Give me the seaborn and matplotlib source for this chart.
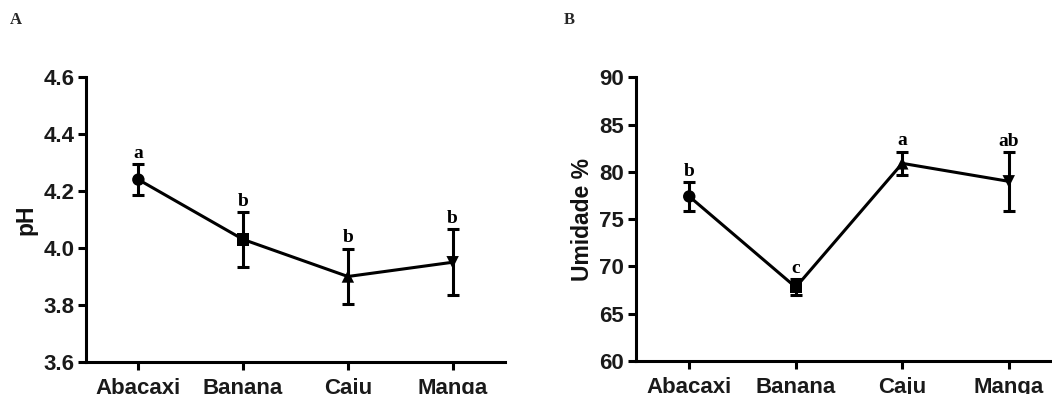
import numpy as np
import pandas as pd
import matplotlib
matplotlib.use("Agg")
import matplotlib.pyplot as plt
import seaborn as sns

categories = ["Abacaxi", "Banana", "Caju", "Manga"]
ph_mean = [4.24, 4.03, 3.90, 3.95]
ph_err = [0.055, 0.095, 0.098, 0.115]
ph_letters = ["a", "b", "b", "b"]
um_mean = [77.4, 67.8, 80.9, 79.0]
um_err = [1.5, 0.85, 1.25, 3.1]
um_letters = ["b", "c", "a", "ab"]
ph_ticks = [3.6, 3.8, 4.0, 4.2, 4.4, 4.6]
um_ticks = [60, 65, 70, 75, 80, 85, 90]
markers = {"Abacaxi": "o", "Banana": "s", "Caju": "^", "Manga": "v"}

sns.set_theme(style="ticks")
plt.rcParams["font.family"] = ["Liberation Sans", "DejaVu Sans"]

fig = plt.figure(figsize=(10.52, 3.94), dpi=100)
axA = fig.add_axes([86 / 1052, 1 - 362 / 394, (505 - 86) / 1052, (362 - 77) / 394])
axB = fig.add_axes([636 / 1052, 1 - 361 / 394, (1062 - 636) / 1052, (361 - 77.3) / 394])


def panel(ax, mean, err, letters, ticks, ylabel):
    df = pd.DataFrame({"x": np.arange(len(categories)), "y": mean, "cat": categories})
    sns.lineplot(data=df, x="x", y="y", color="black", linewidth=2.2, ax=ax, zorder=2)
    ax.errorbar(df["x"], df["y"], yerr=err, fmt="none", ecolor="black",
                elinewidth=2.2, capsize=4, capthick=2.2, zorder=3)
    sns.scatterplot(data=df, x="x", y="y", style="cat", markers=markers,
                    color="black", s=80, edgecolor="black", linewidth=0,
                    legend=False, ax=ax, zorder=4)
    for xi, (m, e, l) in enumerate(zip(mean, err, letters)):
        ax.annotate(l, (xi, m + e), xytext=(0, 4.5), textcoords="offset points",
                    ha="center", va="baseline", fontsize=14, fontweight="bold",
                    family=["Liberation Serif", "DejaVu Serif"], color="black")
    ax.set_xlim(-0.5, 3.5)
    ax.set_ylim(ticks[0], ticks[-1])
    ax.set_yticks(ticks)
    ax.set_xticks(range(len(categories)))
    ax.set_xticklabels(categories)
    if isinstance(ticks[0], float):
        ax.set_yticklabels([f"{t:.1f}" for t in ticks])
    ax.set_xlabel("")
    ax.set_ylabel(ylabel, fontsize=16.5, fontweight="bold", labelpad=4, color="#111111")
    for s in ["top", "right"]:
        ax.spines[s].set_visible(False)
    for s in ["left", "bottom"]:
        ax.spines[s].set_linewidth(2.2)
        ax.spines[s].set_color("black")
    ax.tick_params(axis="both", which="major", length=6, width=2.2, color="black",
                   labelsize=16, labelcolor="#1a1a1a", direction="out")
    ax.tick_params(axis="x", pad=5.5)
    ax.tick_params(axis="y", pad=2.5)
    for lab in ax.get_xticklabels() + ax.get_yticklabels():
        lab.set_fontweight("bold")
    ax.set_facecolor("white")


panel(axA, ph_mean, ph_err, ph_letters, ph_ticks, "pH")
panel(axB, um_mean, um_err, um_letters, um_ticks, "Umidade %")

fig.text(16 / 1052, 1 - 20 / 394, "A", ha="center", va="center", fontsize=12,
         fontweight="bold", family=["Liberation Serif", "DejaVu Serif"])
fig.text(569 / 1052, 1 - 19.5 / 394, "B", ha="center", va="center", fontsize=12,
         fontweight="bold", family=["Liberation Serif", "DejaVu Serif"])

fig.savefig("out.png", dpi=100, facecolor="white")
